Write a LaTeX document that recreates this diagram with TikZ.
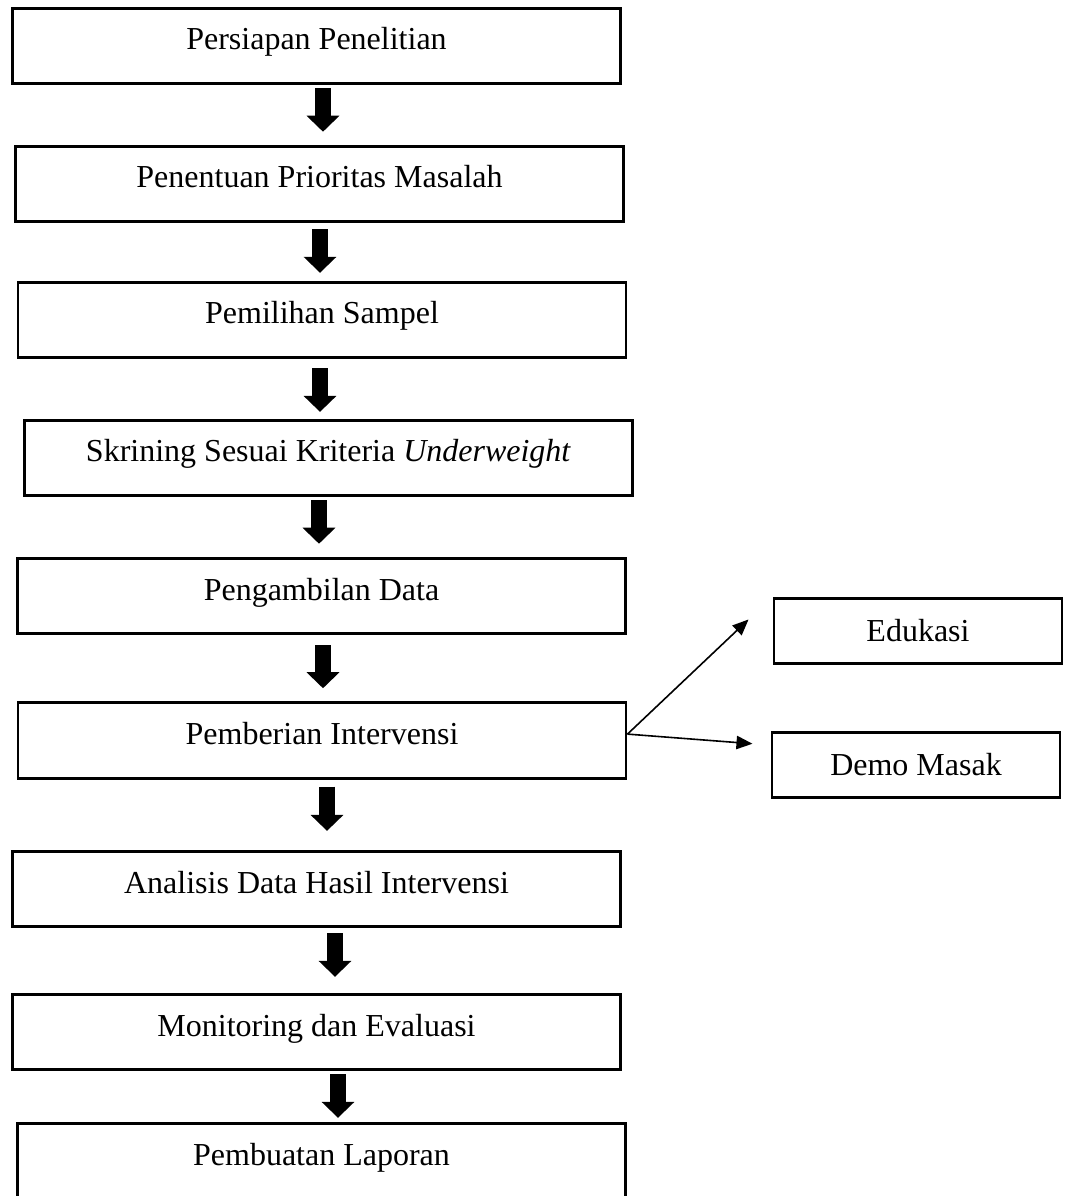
\documentclass[tikz,border=0pt]{standalone}
\usepackage{fontspec}
\setmainfont{Liberation Serif}
\usepackage{tikz}
\usetikzlibrary{calc,arrows.meta,positioning}

\begin{document}
\begin{tikzpicture}[x=0.375pt,y=-0.375pt]

\tikzset{flowbox/.style={draw=black,line width=1.1pt,minimum width=228pt,minimum height=28.3pt,inner sep=0pt,font=\fontsize{12}{14}\selectfont,text height=9pt,text depth=6pt},
sidebox/.style={draw=black,line width=1.1pt,minimum width=108pt,minimum height=24.6pt,inner sep=0pt,font=\fontsize{12}{14}\selectfont},
bigarrow/.style={line width=6pt,-{Triangle[width=12pt,length=6pt]}},
thinarrow/.style={line width=0.6pt,-{Triangle[width=5pt,length=6pt]}}}

\useasboundingbox (0,0) rectangle (1073,1196);

% Main steps
\node[flowbox] (p1) at (316.5,46) {Persiapan Penelitian};
\node[flowbox] (p2) at (319.5,184) {Penentuan Prioritas Masalah};
\node[flowbox] (p3) at (322,320) {Pemilihan Sampel};
\node[flowbox] (p4) at (328.5,458) {Skrining Sesuai Kriteria \textit{Underweight}};
\node[flowbox] (p5) at (321.5,596) {Pengambilan Data};
\node[flowbox] (p6) at (322,740.5) {Pemberian Intervensi};
\node[flowbox] (p7) at (316.5,889) {Analisis Data Hasil Intervensi};
\node[flowbox] (p8) at (316.5,1032) {Monitoring dan Evaluasi};
\node[flowbox] (p9) at (321.5,1161) {Pembuatan Laporan};

% Intervention parts
\node[sidebox] (edu) at (918,631) {Edukasi};
\node[sidebox] (demo) at (916,765) {Demo Masak};

% Block arrows between steps
\foreach \a/\b/\x/\s/\e in {p1/p2/323/1.1/4.9, p2/p3/320/2.25/3, p3/p4/320/3.4/2.6, p4/p5/319/1.1/4.9, p5/p6/323/3.75/4.9, p6/p7/327/2.6/7.1, p7/p8/335/1.9/6, p8/p9/338/1.1/1.5}
  \draw[bigarrow,shorten <=\s pt,shorten >=\e pt] (\x,0 |- \a.south) -- (\x,0 |- \b.north);

% Fork to the two interventions
\coordinate (fork) at ([yshift=2.4pt]p6.east);
\draw[thinarrow,shorten >=12.4pt] (fork) -- (edu.north west);
\draw[thinarrow,shorten >=6.8pt] (fork) -- ([yshift=-5.4pt]demo.north west);

\end{tikzpicture}
\end{document}
